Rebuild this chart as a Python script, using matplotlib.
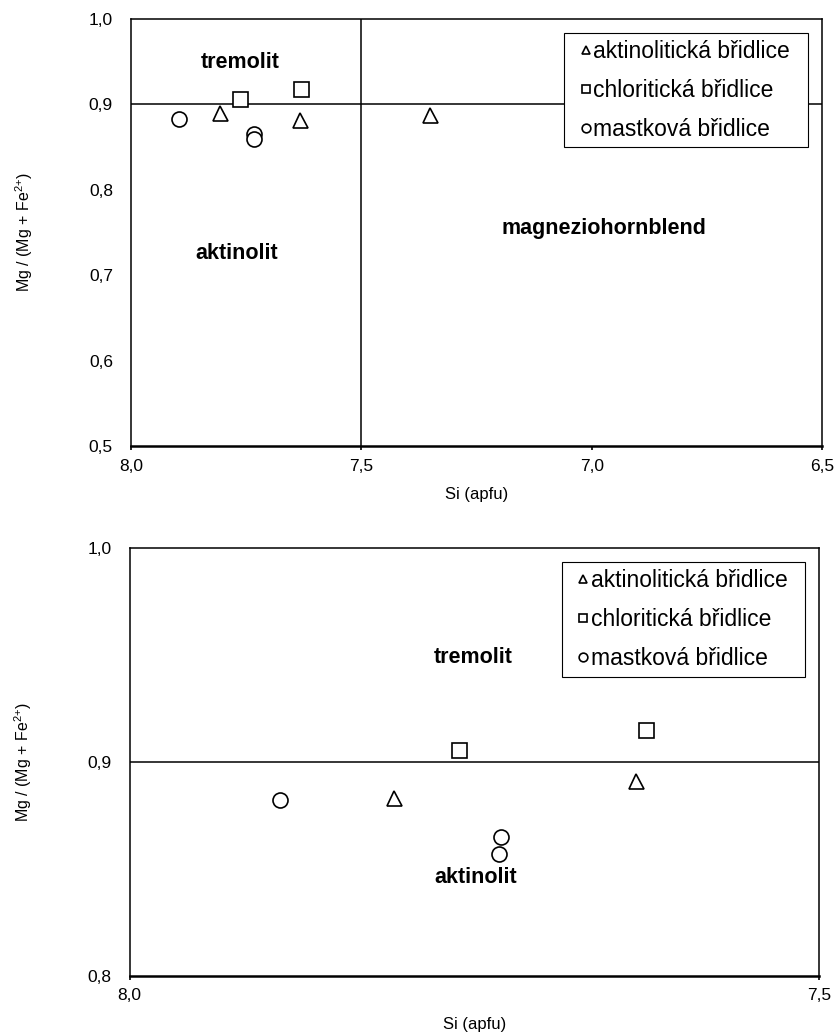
import matplotlib
matplotlib.use("Agg")
import matplotlib.pyplot as plt

plt.rcParams['font.family'] = 'Liberation Sans'
plt.rcParams['mathtext.fontset'] = 'custom'
plt.rcParams['mathtext.rm'] = 'Liberation Sans'
plt.rcParams['mathtext.it'] = 'Liberation Sans:italic'

nazvy = ['aktinolitická břidlice', 'chloritická břidlice', 'mastková břidlice']
znacky = ['^', 's', 'o']

# horni graf - cely rozsah Si
akt_si_1 = [7.807, 7.634, 7.352]
akt_mg_1 = [0.890, 0.882, 0.888]
chl_si_1 = [7.763, 7.630]
chl_mg_1 = [0.906, 0.918]
mas_si_1 = [7.896, 7.734, 7.734]
mas_mg_1 = [0.883, 0.865, 0.859]

# dolni graf - detail
akt_si_2 = [7.808, 7.633]
akt_mg_2 = [0.883, 0.891]
chl_si_2 = [7.761, 7.626]
chl_mg_2 = [0.9055, 0.915]
mas_si_2 = [7.891, 7.731, 7.732]
mas_mg_2 = [0.882, 0.865, 0.857]

xticks_1 = [8.0, 7.5, 7.0, 6.5]
xlabels_1 = ['8,0', '7,5', '7,0', '6,5']
yticks_1 = [0.5, 0.6, 0.7, 0.8, 0.9, 1.0]
ylabels_1 = ['0,5', '0,6', '0,7', '0,8', '0,9', '1,0']

xticks_2 = [8.0, 7.5]
xlabels_2 = ['8,0', '7,5']
yticks_2 = [0.8, 0.9, 1.0]
ylabels_2 = ['0,8', '0,9', '1,0']


def graf(ax, data, xticks, xlabels, yticks, ylabels):
    for (si, mg), m, nazev in zip(data, znacky, nazvy):
        ax.plot(si, mg, linestyle='none', marker=m, ms=10.8, mfc='white',
                mec='black', mew=1.2, label=nazev, zorder=3)
    ax.axhline(0.9, color='black', lw=1.1, zorder=2)
    ax.set_xlim(xticks[0], xticks[-1])
    ax.set_ylim(yticks[0], yticks[-1])
    ax.set_xticks(xticks)
    ax.set_xticklabels(xlabels)
    ax.set_yticks(yticks)
    ax.set_yticklabels(ylabels)
    ax.tick_params(axis='x', direction='out', length=3, width=1.2, pad=6, labelsize=12.5)
    ax.tick_params(axis='y', length=0, pad=13, labelsize=12.5)
    for s in ax.spines.values():
        s.set_linewidth(1.1)
    ax.spines['bottom'].set_linewidth(1.8)
    ax.set_xlabel('Si (apfu)', fontsize=12)
    ax.set_ylabel(r'Mg / (Mg + Fe$^{2{+}}$)', fontsize=11.5)
    ax.xaxis.set_label_coords(0.5, -0.096)
    ax.yaxis.set_label_coords(-0.139, 0.5)
    leg = ax.legend(loc='upper left', bbox_to_anchor=(0.6266, 0, 0.3531, 0.968),
                    mode='expand', borderaxespad=0, fontsize=16.5, markerscale=0.58,
                    handlelength=1.28, handletextpad=-0.33, borderpad=0.3,
                    labelspacing=0.7, fancybox=False, framealpha=1)
    leg.get_frame().set_edgecolor('black')
    leg.get_frame().set_linewidth(0.8)


fig = plt.figure(figsize=(8.34, 10.32), dpi=100)
ax1 = fig.add_axes([0.1571, 0.5678, 0.8285, 0.4138])
ax2 = fig.add_axes([0.1553, 0.0543, 0.8273, 0.4147])

graf(ax1, [(akt_si_1, akt_mg_1), (chl_si_1, chl_mg_1), (mas_si_1, mas_mg_1)],
     xticks_1, xlabels_1, yticks_1, ylabels_1)
ax1.axvline(7.5, color='black', lw=1.1, zorder=2)
ax1.text(7.763, 0.949, 'tremolit', fontsize=15.5, fontweight='bold', ha='center', va='center')
ax1.text(7.77, 0.726, 'aktinolit', fontsize=15.5, fontweight='bold', ha='center', va='center')
ax1.text(6.974, 0.755, 'magneziohornblend', fontsize=15.5, fontweight='bold', ha='center', va='center')

graf(ax2, [(akt_si_2, akt_mg_2), (chl_si_2, chl_mg_2), (mas_si_2, mas_mg_2)],
     xticks_2, xlabels_2, yticks_2, ylabels_2)
ax2.text(7.751, 0.949, 'tremolit', fontsize=15.5, fontweight='bold', ha='center', va='center')
ax2.text(7.749, 0.846, 'aktinolit', fontsize=15.5, fontweight='bold', ha='center', va='center')

fig.savefig('out.png', dpi=100)
